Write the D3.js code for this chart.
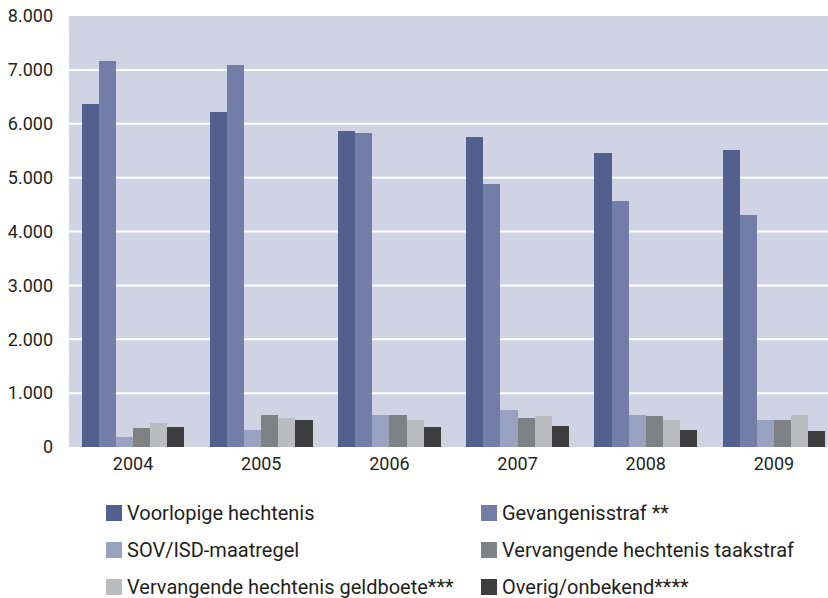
<!DOCTYPE html>
<html>
<head>
<meta charset="utf-8">
<script src="https://cdn.jsdelivr.net/npm/d3@7"></script>
<style>
  html, body { margin: 0; padding: 0; background: #ffffff; }
  svg { display: block; font-family: Roboto, "Noto Sans", sans-serif; }
</style>
</head>
<body>
<svg id="chart" width="828" height="598"></svg>
<script>
const years = ["2004", "2005", "2006", "2007", "2008", "2009"];
const seriesNames = [
  "Voorlopige hechtenis",
  "Gevangenisstraf **",
  "SOV/ISD-maatregel",
  "Vervangende hechtenis taakstraf",
  "Vervangende hechtenis geldboete***",
  "Overig/onbekend****"
];
const voorlopige = [6360, 6210, 5860, 5760, 5460, 5510];
const gevangenis = [7160, 7090, 5830, 4880, 4570, 4300];
const sovIsd = [180, 310, 590, 680, 590, 510];
const taakstraf = [350, 600, 590, 530, 570, 510];
const geldboete = [440, 530, 500, 570, 500, 590];
const overig = [365, 495, 365, 385, 310, 290];
const seriesValues = [voorlopige, gevangenis, sovIsd, taakstraf, geldboete, overig];
const colors = ["#526090", "#727ea8", "#99a2c1", "#808184", "#bbbcbf", "#3d3d3d"];
const yTicks = [0, 1000, 2000, 3000, 4000, 5000, 6000, 7000, 8000];

const svg = d3.select("#chart");
const mLeft = 69, mTop = 16, mBottom = 447, mRight = 838;

const x = d3.scaleBand().domain(years).range([mLeft, mRight]).paddingInner(0.2).paddingOuter(0.1);
const xs = d3.scaleBand().domain(d3.range(seriesNames.length)).range([0, x.bandwidth()]);
const y = d3.scaleLinear().domain([0, 8000]).range([mBottom, mTop]);

const fmt = v => v === 0 ? "0" : d3.format(",")(v).replace(/,/g, ".");

// background
svg.append("rect").attr("x", mLeft).attr("y", mTop)
  .attr("width", 828 - mLeft).attr("height", mBottom - mTop).attr("fill", "#d0d3e4");

// gridlines
svg.append("g").selectAll("line").data(yTicks.filter(t => t > 0 && t < 8000)).join("line")
  .attr("x1", mLeft).attr("x2", 828)
  .attr("y1", d => y(d)).attr("y2", d => y(d))
  .attr("stroke", "#ffffff").attr("stroke-width", 2);

// bars
const groups = svg.append("g").selectAll("g").data(years).join("g")
  .attr("transform", d => `translate(${x(d)},0)`);
groups.selectAll("rect")
  .data((d, i) => seriesValues.map((vals, s) => ({ s, v: vals[i] })))
  .join("rect")
  .attr("x", d => xs(d.s))
  .attr("width", xs.bandwidth())
  .attr("y", d => y(d.v))
  .attr("height", d => mBottom - y(d.v))
  .attr("fill", d => colors[d.s])
  .attr("shape-rendering", "crispEdges");

// y axis
const yAxis = svg.append("g").attr("transform", `translate(${mLeft},0)`)
  .call(d3.axisLeft(y).tickValues(yTicks).tickFormat(fmt).tickSize(0).tickPadding(16));
yAxis.select(".domain").remove();
yAxis.selectAll("text").attr("font-size", 18).attr("fill", "#231f20")
  .attr("font-family", "Roboto, sans-serif");

// x axis
const xAxis = svg.append("g").attr("transform", `translate(0,${mBottom})`)
  .call(d3.axisBottom(x).tickSize(0).tickPadding(10));
xAxis.select(".domain").remove();
xAxis.selectAll("text").attr("font-size", 18).attr("fill", "#231f20")
  .attr("font-family", "Roboto, sans-serif");

// legend
const legendCols = [106, 481];
const legendRows = [513, 550, 587];
const leg = svg.append("g").selectAll("g").data(seriesNames).join("g")
  .attr("transform", (d, i) => `translate(${legendCols[i % 2]},${legendRows[Math.floor(i / 2)]})`);
leg.append("rect").attr("x", 0).attr("y", -8).attr("width", 16).attr("height", 16)
  .attr("fill", (d, i) => colors[i]);
leg.append("text").attr("x", 21).attr("y", 0).attr("dy", "0.35em")
  .attr("font-size", 20).attr("fill", "#231f20").text(d => d);
</script>
</body>
</html>
